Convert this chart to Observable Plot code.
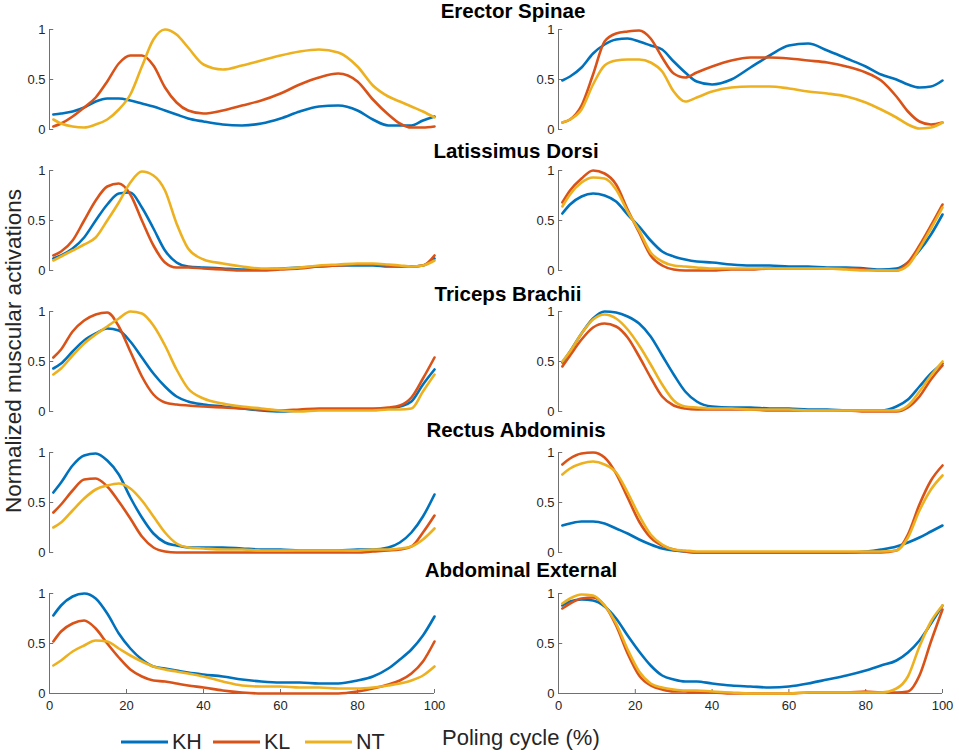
<!DOCTYPE html>
<html><head><meta charset="utf-8">
<script src="https://cdn.jsdelivr.net/npm/d3@7"></script>
<script src="https://cdn.jsdelivr.net/npm/@observablehq/plot@0.6"></script>
<style>
body{margin:0;background:#fff;}
#fig{position:relative;width:959px;height:754px;font-family:"Liberation Sans",Arial,sans-serif;overflow:hidden;}
#fig .panel{position:absolute;}
#overlay{position:absolute;left:0;top:0;}
</style></head><body><div id="fig"></div>
<script>
// Poling cycle (%) sample positions
const X = [1,3,6,9,12,15,18,21,24,27,30,33,36,40,45,50,55,60,65,70,75,80,84,88,91,94,97,100];
const groups = ["KH","KL","NT"];
const colors = ["#0072BD","#D95319","#EDB120"];
const muscles = ["Erector Spinae","Latissimus Dorsi","Triceps Brachii","Rectus Abdominis","Abdominal External"];
const yTicks = [0,0.5,1];
const xTicks = [0,20,40,60,80,100];

// Erector Spinae
const ES_L_KH = [.15,.16,.18,.22,.28,.31,.31,.29,.26,.23,.19,.15,.11,.08,.05,.04,.06,.11,.18,.23,.24,.19,.10,.04,.04,.04,.09,.13];
const ES_L_KL = [.03,.06,.13,.22,.32,.48,.66,.74,.74,.64,.42,.27,.19,.16,.19,.24,.29,.36,.45,.52,.56,.48,.30,.15,.06,.02,.02,.03];
const ES_L_NT = [.10,.06,.03,.02,.05,.10,.20,.35,.63,.90,1.0,.95,.82,.65,.60,.64,.69,.74,.78,.80,.77,.63,.44,.33,.28,.23,.18,.12];
const ES_R_KH = [.49,.53,.62,.76,.85,.90,.91,.88,.84,.80,.68,.57,.48,.45,.50,.62,.74,.84,.86,.79,.71,.63,.55,.50,.45,.42,.43,.49];
const ES_R_KL = [.07,.10,.24,.55,.88,.96,.98,.99,.91,.72,.56,.52,.57,.63,.69,.72,.72,.71,.69,.67,.63,.57,.49,.33,.18,.08,.05,.07];
const ES_R_NT = [.07,.10,.20,.45,.64,.69,.70,.70,.67,.58,.38,.28,.32,.38,.42,.43,.43,.41,.38,.36,.33,.27,.20,.12,.05,.01,.02,.07];
// Latissimus Dorsi
const LD_L_KH = [.12,.15,.22,.33,.50,.66,.77,.78,.63,.42,.20,.08,.04,.03,.02,.01,.01,.02,.03,.04,.05,.05,.05,.04,.04,.04,.05,.12];
const LD_L_KL = [.15,.19,.30,.50,.70,.84,.87,.76,.50,.25,.08,.03,.03,.02,.01,.00,.00,.01,.02,.04,.05,.06,.06,.05,.04,.04,.05,.15];
const LD_L_NT = [.10,.14,.20,.26,.33,.50,.68,.88,.99,.95,.80,.47,.22,.11,.07,.04,.02,.02,.03,.05,.06,.07,.07,.06,.05,.04,.05,.10];
const LD_R_KH = [.57,.66,.74,.77,.75,.69,.56,.44,.30,.19,.14,.11,.09,.08,.06,.05,.05,.04,.04,.03,.03,.02,.01,.02,.08,.20,.36,.56];
const LD_R_KL = [.68,.80,.92,1.0,.97,.86,.61,.38,.15,.05,.01,.00,.00,.00,.01,.01,.02,.02,.02,.02,.02,.01,.00,.00,.08,.25,.45,.66];
const LD_R_NT = [.64,.76,.88,.93,.92,.81,.59,.40,.18,.09,.05,.04,.03,.02,.02,.02,.02,.02,.02,.02,.01,.00,.00,.00,.05,.22,.42,.63];
// Triceps Brachii
const TB_L_KH = [.43,.48,.60,.71,.78,.83,.81,.70,.54,.38,.25,.15,.10,.07,.05,.03,.01,.00,.01,.02,.02,.02,.02,.03,.05,.10,.27,.42];
const TB_L_KL = [.54,.62,.80,.91,.97,.99,.85,.60,.35,.17,.09,.07,.06,.05,.04,.03,.02,.01,.02,.03,.03,.03,.03,.04,.06,.14,.33,.54];
const TB_L_NT = [.37,.43,.56,.68,.77,.85,.93,1.0,.98,.86,.66,.42,.23,.13,.08,.05,.03,.01,.00,.01,.01,.01,.01,.02,.02,.03,.20,.37];
const TB_R_KH = [.49,.60,.78,.93,1.0,.99,.95,.88,.75,.56,.37,.20,.10,.05,.04,.04,.03,.03,.02,.02,.01,.01,.01,.05,.12,.25,.38,.48];
const TB_R_KL = [.45,.56,.72,.84,.88,.85,.74,.55,.34,.15,.06,.03,.02,.02,.02,.02,.01,.01,.01,.01,.01,.00,.00,.00,.04,.15,.32,.46];
const TB_R_NT = [.50,.60,.78,.92,.97,.93,.82,.66,.47,.27,.11,.05,.04,.03,.03,.02,.02,.02,.01,.01,.01,.01,.01,.01,.06,.20,.36,.50];
// Rectus Abdominis
const RA_L_KH = [.60,.70,.87,.97,.99,.92,.78,.55,.35,.19,.10,.07,.05,.05,.05,.04,.03,.03,.02,.02,.02,.03,.03,.05,.10,.20,.36,.58];
const RA_L_KL = [.40,.48,.62,.73,.74,.66,.51,.34,.16,.05,.01,.00,.00,.00,.00,.00,.00,.00,.00,.00,.00,.00,.01,.02,.03,.06,.20,.37];
const RA_L_NT = [.25,.30,.42,.54,.63,.67,.69,.64,.52,.36,.20,.09,.05,.04,.03,.03,.02,.02,.02,.02,.02,.02,.03,.03,.04,.06,.13,.24];
const RA_R_KH = [.27,.29,.31,.31,.29,.24,.19,.13,.08,.04,.02,.01,.00,.00,.00,.00,.00,.00,.00,.00,.00,.01,.03,.06,.10,.15,.21,.27];
const RA_R_KL = [.88,.94,.99,1.0,.95,.79,.55,.31,.15,.07,.03,.01,.00,.00,.00,.00,.00,.00,.00,.00,.00,.00,.00,.02,.18,.48,.72,.87];
const RA_R_NT = [.78,.84,.89,.91,.88,.80,.60,.37,.18,.08,.03,.02,.01,.01,.01,.01,.01,.01,.01,.01,.01,.01,.01,.02,.15,.42,.63,.77];
// Abdominal External
const AE_L_KH = [.78,.88,.97,1.0,.95,.80,.60,.45,.34,.27,.25,.23,.21,.19,.17,.14,.12,.11,.11,.10,.10,.13,.17,.25,.34,.44,.58,.77];
const AE_L_KL = [.52,.62,.70,.73,.65,.50,.36,.24,.17,.13,.12,.10,.08,.06,.03,.01,.00,.00,.00,.00,.00,.02,.05,.09,.13,.20,.32,.52];
const AE_L_NT = [.28,.33,.42,.48,.53,.52,.45,.38,.32,.27,.24,.22,.20,.17,.12,.08,.07,.07,.06,.06,.05,.05,.06,.08,.10,.13,.18,.27];
const AE_R_KH = [.88,.92,.94,.93,.87,.75,.58,.42,.28,.18,.14,.12,.12,.10,.08,.07,.06,.07,.10,.14,.18,.23,.28,.33,.41,.53,.70,.88];
const AE_R_KL = [.85,.90,.95,.96,.88,.68,.40,.18,.08,.04,.02,.02,.01,.01,.00,.00,.00,.00,.01,.01,.01,.02,.01,.01,.02,.18,.52,.84];
const AE_R_NT = [.90,.95,.99,.98,.88,.70,.44,.22,.10,.06,.04,.03,.03,.02,.01,.00,.00,.00,.01,.01,.01,.01,.01,.05,.17,.47,.72,.88];

const panels = [
  [[ES_L_KH,ES_L_KL,ES_L_NT],[ES_R_KH,ES_R_KL,ES_R_NT]],
  [[LD_L_KH,LD_L_KL,LD_L_NT],[LD_R_KH,LD_R_KL,LD_R_NT]],
  [[TB_L_KH,TB_L_KL,TB_L_NT],[TB_R_KH,TB_R_KL,TB_R_NT]],
  [[RA_L_KH,RA_L_KL,RA_L_NT],[RA_R_KH,RA_R_KL,RA_R_NT]],
  [[AE_L_KH,AE_L_KL,AE_L_NT],[AE_R_KH,AE_R_KL,AE_R_NT]]
];

const fig = document.getElementById("fig");
const axisColor = "#707070";

function makePanel(series, isBottom, isRight) {
  const data = [];
  groups.forEach((g, k) => series[k].forEach((v, i) => data.push({cycle: X[i], act: v, group: g})));
  const mL = isRight ? 79 : 49;
  const inner = isRight ? 384 : 385;
  const mT = 6, mB = isBottom ? 34 : 6, mR = 14;
  const marks = [
    Plot.ruleX([0], {stroke: axisColor, strokeWidth: 1}),
    Plot.ruleY(yTicks, {x1: 0, x2: 1.1, stroke: axisColor, strokeWidth: 1}),
    Plot.axisY({ticks: yTicks, tickSize: 0, tickPadding: 4, tickFormat: d => String(d), fontSize: 13, label: null})
  ];
  if (isBottom) {
    marks.push(
      Plot.ruleY([0], {stroke: axisColor, strokeWidth: 1}),
      Plot.ruleX(xTicks.slice(1), {y1: 0, y2: 0.04, stroke: axisColor, strokeWidth: 1}),
      Plot.axisX({ticks: xTicks, tickSize: 0, tickPadding: 7, tickFormat: d => String(d), fontSize: 13, label: null})
    );
  }
  marks.push(Plot.line(data, {x: "cycle", y: "act", z: "group", stroke: "group", strokeWidth: 2.6, curve: "monotone-x"}));
  return Plot.plot({
    width: mL + inner + mR, height: mT + 100 + mB,
    marginLeft: mL, marginRight: mR, marginTop: mT, marginBottom: mB,
    x: isBottom ? {domain: [0, 100], label: null} : {domain: [0, 100], axis: null, label: null},
    y: {domain: [0, 1], label: null},
    color: {domain: groups, range: colors},
    style: {fontFamily: '"Liberation Sans", Arial, sans-serif', fontSize: "13px", color: "#262626", background: "transparent", overflow: "visible"},
    marks
  });
}

panels.forEach((row, r) => {
  row.forEach((series, c) => {
    const el = makePanel(series, r === 4, c === 1);
    const div = document.createElement("div");
    div.className = "panel";
    div.style.left = (c === 1 ? 479 : 0) + "px";
    div.style.top = (29 + 141 * r - 6) + "px";
    div.appendChild(el);
    fig.appendChild(div);
  });
});

// overlay: titles, axis labels, legend
const svg = d3.select(fig).append("svg").attr("id", "overlay").attr("width", 959).attr("height", 754)
  .style("font-family", '"Liberation Sans", Arial, sans-serif');
const titleX = [513, 516, 508, 516, 521];
const titleY = [18, 158, 301, 437, 577];
muscles.forEach((m, i) => {
  svg.append("text").attr("x", titleX[i]).attr("y", titleY[i]).attr("text-anchor", "middle")
    .attr("font-size", 20.5).attr("font-weight", "bold").attr("fill", "#000").text(m);
});
svg.append("text").attr("transform", "translate(21,351) rotate(-90)").attr("text-anchor", "middle")
  .attr("font-size", 22.5).attr("fill", "#262626").text("Normalized muscular activations");
svg.append("text").attr("x", 442).attr("y", 745).attr("font-size", 22).attr("fill", "#262626").text("Poling cycle (%)");
const legX = [121, 213, 305];
groups.forEach((g, i) => {
  svg.append("line").attr("x1", legX[i]).attr("x2", legX[i] + 47).attr("y1", 742).attr("y2", 742)
    .attr("stroke", colors[i]).attr("stroke-width", 3);
  svg.append("text").attr("x", legX[i] + 51).attr("y", 749).attr("font-size", 21.5).attr("fill", "#262626").text(g);
});
</script></body></html>
